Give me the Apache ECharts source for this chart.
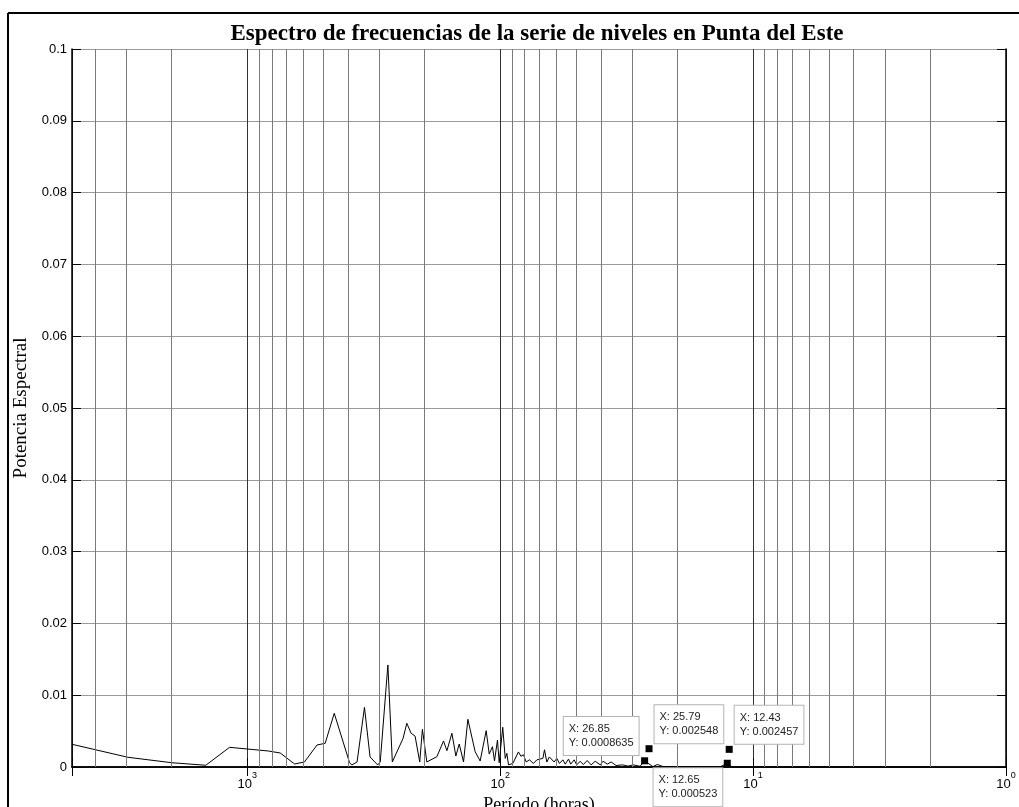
<!DOCTYPE html>
<html>
<head>
<meta charset="utf-8">
<title>Espectro de frecuencias</title>
<script src="https://cdn.jsdelivr.net/npm/echarts@6/dist/echarts.min.js"></script>
<style>
  html, body { margin: 0; padding: 0; background: #fff; }
  #chart { width: 1019px; height: 807px; }
</style>
</head>
<body>
<div id="chart"></div>
<script>
// período (horas), de izquierda a derecha
const periodos = [
  4932, 2961, 1992, 1459, 1175, 826, 741, 650, 594, 530, 492, 453,
  394, 386, 368, 344, 327, 305, 298, 278, 267, 242, 234, 225, 217, 208, 203, 195,
  178, 167.5, 162.4, 155.2, 149.7, 145.2, 139.6, 134.2, 125.6, 120, 113.6, 110.5,
  107.3, 105.3, 102.5, 100.9, 97.7, 95.5, 94.1, 92.7, 89.1, 84.7, 82.8, 80.9,
  78.9, 76.6, 73.9, 71.6, 67.8, 66.8, 65.4, 63.9, 61.2, 59.7, 58.3, 56.5, 55.3,
  53.7, 52.6, 51.0, 49.8, 48.3, 46.9, 45.3, 43.7, 42.1, 40.2, 39.2, 37.7, 36.4,
  34.8, 32.9, 31.2, 29.8, 28.0, 26.85, 24.9, 23.9, 22.8, 20, 16, 13.5, 12.65,
  12.1, 8, 4, 2
];
// potencia espectral para cada período
const potencia = [
  0.00316, 0.00135, 0.00060, 0.00024, 0.00274, 0.00223, 0.00195, 0.00042, 0.00070, 0.00306, 0.00330, 0.00748,
  0.00060, 0.00028, 0.00070, 0.00831, 0.00140, 0.00028, 0.00070, 0.01421, 0.00070, 0.00400, 0.00609, 0.00470, 0.00430, 0.00070, 0.00525, 0.00070,
  0.00143, 0.00362, 0.00227, 0.00470, 0.00153, 0.00320, 0.00070, 0.00664, 0.00213, 0.00084, 0.00506, 0.00180,
  0.00283, 0.00084, 0.00376, 0.00060, 0.00553, 0.00120, 0.00190, 0.00030, 0.00050, 0.00210, 0.00150, 0.00170,
  0.00070, 0.00100, 0.00050, 0.00100, 0.00120, 0.00240, 0.00070, 0.00140, 0.00070, 0.00120, 0.00050, 0.00100, 0.00040,
  0.00110, 0.00040, 0.00100, 0.00030, 0.00080, 0.00035, 0.00090, 0.00030, 0.00080, 0.00030, 0.00080, 0.00040, 0.00070,
  0.00020, 0.00030, 0.00012, 0.00030, 0.00010, 0.0008635, 0.00005, 0.00035, 0.00008, 0.00003, 0.00004, 0.00002, 0.000523,
  0.00002, 0.00001, 0.00001, 0.00001
];

// líneas de grilla menores (2..9 de cada década)
const lineasMenores = [
  4000, 3000, 2000,
  900, 800, 700, 600, 500, 400, 300, 200,
  90, 80, 70, 60, 50, 40, 30, 20,
  9, 8, 7, 6, 5, 4, 3, 2
];

// datatips
const tipX = [26.85, 25.79, 12.43, 12.65];
const tipY = [0.0008635, 0.002548, 0.002457, 0.000523];
const tipLado = ['arribaIzq', 'arribaDer', 'arribaDer', 'abajoIzq'];

const xMin = 1, xMax = 4932;
const sans = 'Liberation Sans, Arial, sans-serif';
const serif = 'Liberation Serif, Times New Roman, serif';

const posTip = {
  arribaIzq: { position: [-2.5, -2.3], align: 'right', verticalAlign: 'bottom' },
  arribaDer: { position: [9, -2], align: 'left', verticalAlign: 'bottom' },
  abajoIzq: { position: [-1.5, 8.5], align: 'right', verticalAlign: 'top' }
};

const chart = echarts.init(document.getElementById('chart'));

// solo las décadas llevan etiqueta, como 10^n
const etiquetaPotencia = (v) => {
  const e = Math.round(Math.log10(v));
  if (Math.abs(v - Math.pow(10, e)) / Math.pow(10, e) > 1e-6) return '';
  return '{b|10}{e|' + e + '}';
};

const option = {
  animation: false,
  backgroundColor: '#fff',
  title: {
    text: 'Espectro de frecuencias de la serie de niveles en Punta del Este',
    left: 532,
    top: 18,
    textAlign: 'center',
    textStyle: { fontFamily: serif, fontWeight: 'bold', fontSize: 23, color: '#000' }
  },
  grid: { left: 72, right: 13, top: 49, bottom: 40, outerBoundsMode: 'none', containLabel: false },
  xAxis: [
    {
      type: 'log',
      logBase: 10,
      min: xMin,
      max: xMax,
      inverse: true,
      name: 'Período (horas)',
      nameLocation: 'middle',
      nameGap: 24,
      nameTextStyle: { fontFamily: serif, fontSize: 18, color: '#000', verticalAlign: 'top' },
      axisLine: { lineStyle: { color: '#000', width: 1.5 } },
      axisTick: { inside: true, length: 9, lineStyle: { color: '#000' } },
      axisLabel: {
        margin: 4,
        formatter: etiquetaPotencia,
        rich: {
          b: { fontFamily: sans, fontSize: 13, color: '#000', lineHeight: 20, verticalAlign: 'bottom' },
          e: { fontFamily: sans, fontSize: 9, color: '#000', lineHeight: 10, verticalAlign: 'top' }
        }
      },
      splitLine: { show: true, lineStyle: { color: '#333', width: 1, type: 'solid' } }
    },
    {
      type: 'log',
      logBase: 10,
      min: xMin,
      max: xMax,
      inverse: true,
      position: 'top',
      axisLine: { lineStyle: { color: '#000', width: 1.5 } },
      axisTick: { inside: true, length: 9, lineStyle: { color: '#000' } },
      axisLabel: { show: false },
      splitLine: { show: false }
    }
  ],
  yAxis: [
    {
      type: 'value',
      min: 0,
      max: 0.1,
      interval: 0.01,
      name: 'Potencia Espectral',
      nameLocation: 'middle',
      nameGap: 33,
      nameTextStyle: { fontFamily: serif, fontSize: 19, color: '#000' },
      axisLine: { show: true, lineStyle: { color: '#000', width: 1.5 } },
      axisTick: { show: true, inside: true, length: 9, lineStyle: { color: '#000' } },
      axisLabel: {
        margin: 5,
        fontFamily: sans,
        fontSize: 13,
        color: '#000',
        formatter: (v) => (v === 0 ? '0' : String(+v.toFixed(2)))
      },
      splitLine: { show: true, lineStyle: { color: '#9a9a9a', width: 1, type: 'solid' } }
    },
    {
      type: 'value',
      min: 0,
      max: 0.1,
      interval: 0.01,
      position: 'right',
      axisLine: { show: true, lineStyle: { color: '#000', width: 1.5 } },
      axisTick: { show: true, inside: true, length: 9, lineStyle: { color: '#000' } },
      axisLabel: { show: false },
      splitLine: { show: false }
    }
  ],
  series: [
    {
      // solo para la grilla menor vertical
      name: 'grilla',
      type: 'line',
      data: [],
      z: 1,
      silent: true,
      markLine: {
        silent: true,
        symbol: ['none', 'none'],
        label: { show: false },
        lineStyle: { color: '#7a7a7a', width: 1, type: 'solid' },
        data: lineasMenores.map(v => ({ xAxis: v }))
      }
    },
    {
      name: 'Potencia',
      type: 'line',
      z: 3,
      showSymbol: false,
      symbol: 'none',
      lineStyle: { color: '#000', width: 1 },
      data: periodos.map((p, i) => [p, potencia[i]]),
      markPoint: {
        symbol: 'rect',
        symbolSize: 7,
        itemStyle: { color: '#000' },
        data: tipX.map((x, i) => ({
          coord: [x, tipY[i]],
          label: Object.assign({
            show: true,
            formatter: '{t|X: ' + x + '}\n{t|Y: ' + tipY[i] + '}',
            backgroundColor: '#fff',
            borderColor: '#b4b4b4',
            borderWidth: 1,
            padding: [5, 5, 5, 5],
            rich: {
              t: { fontFamily: sans, fontSize: 11, lineHeight: 14, color: '#222', align: 'left' }
            }
          }, posTip[tipLado[i]])
        }))
      }
    }
  ],
  graphic: [
    { type: 'line', shape: { x1: 8, y1: 13, x2: 1019, y2: 13 }, style: { stroke: '#000', lineWidth: 2 } },
    { type: 'line', shape: { x1: 8, y1: 13, x2: 8, y2: 807 }, style: { stroke: '#000', lineWidth: 2 } }
  ]
};

chart.setOption(option);
window.addEventListener('resize', () => chart.resize());
</script>
</body>
</html>
